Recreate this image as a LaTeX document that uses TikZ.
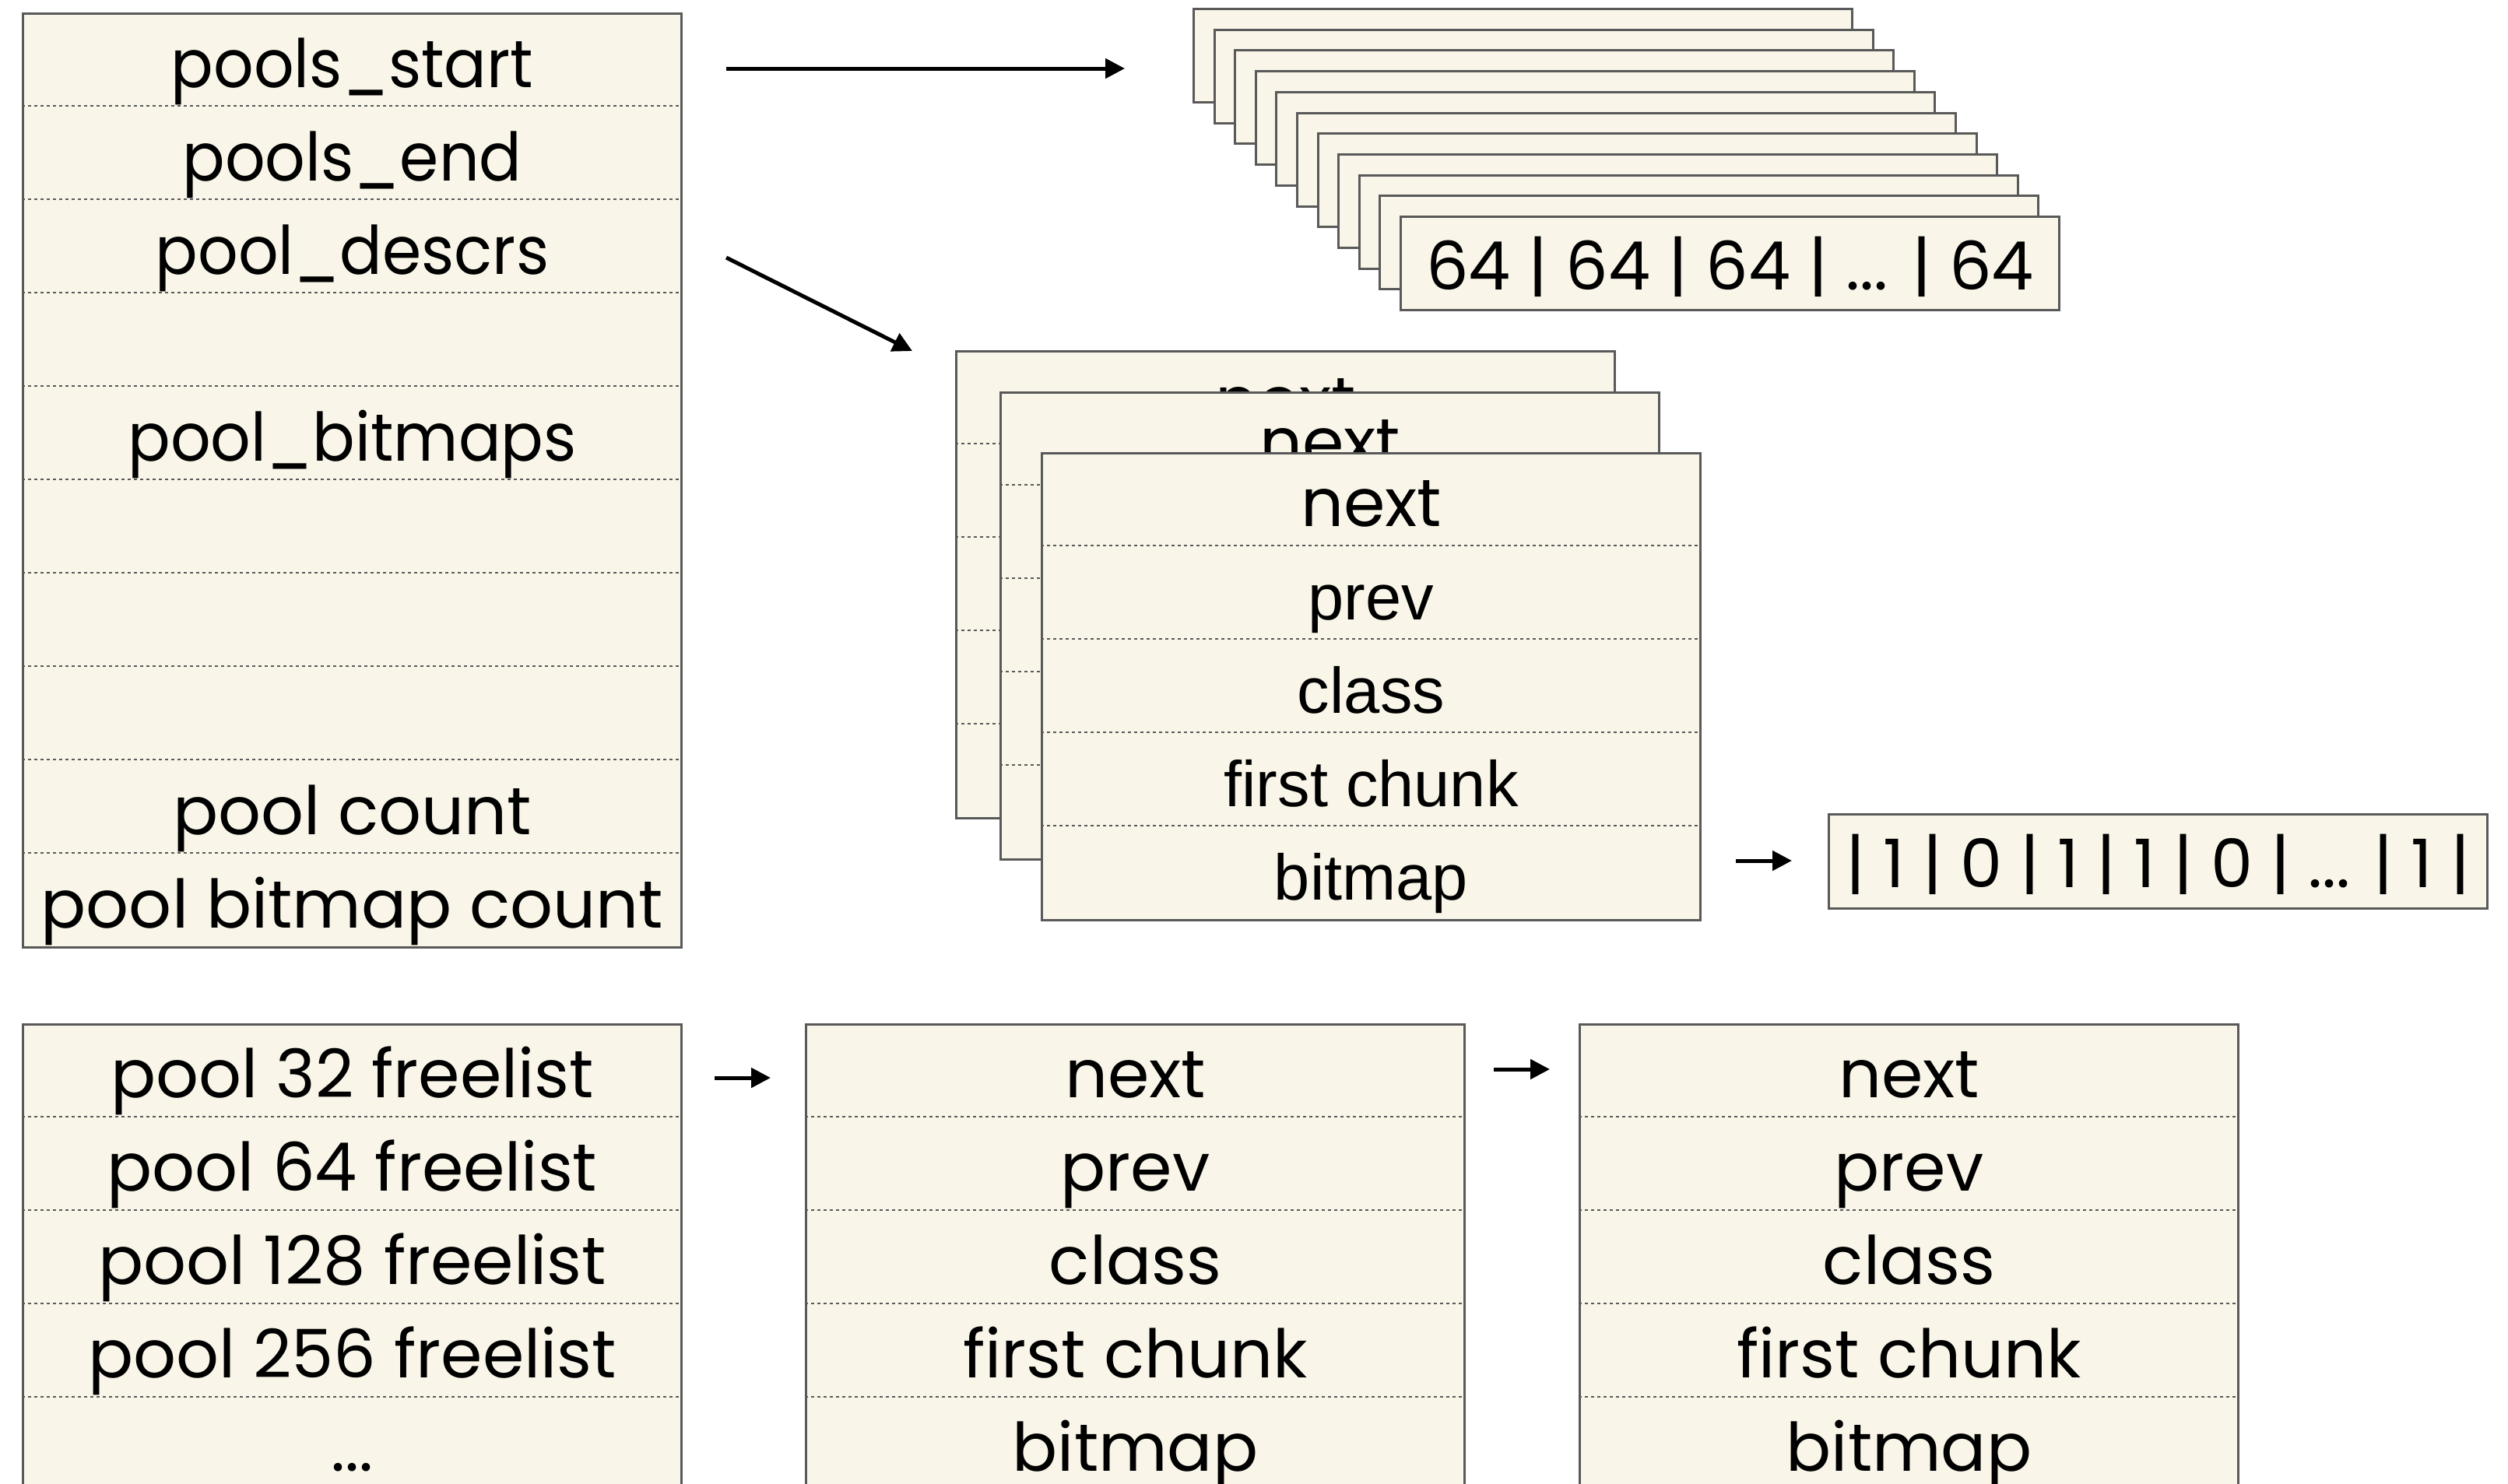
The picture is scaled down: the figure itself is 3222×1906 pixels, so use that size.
\documentclass[tikz,border=0pt]{standalone}
\usepackage{fontspec}
\setmainfont{Poppins}
\newfontfamily\popnarrow[FakeStretch=0.94]{Poppins}
\newfontfamily\helv{Liberation Sans}
\usetikzlibrary{arrows.meta}
\definecolor{cream}{HTML}{F9F6E9}
\definecolor{edge}{HTML}{595959}
\tikzset{
 box/.style={draw=edge, line width=3pt, fill=cream, minimum width=846pt, inner sep=0pt, anchor=north west},
 divider/.style={draw=edge, line width=2pt, dash pattern=on 4pt off 4pt},
 lbl/.style={anchor=base, inner sep=0pt, font=\fontsize{86}{100}\selectfont},
 nlbl/.style={anchor=base, inner sep=0pt, font=\popnarrow\fontsize{86}{100}\selectfont},
 hlbl/.style={anchor=base, inner sep=0pt, font=\helv\fontsize{83}{100}\selectfont},
 arr/.style={line width=5pt, -{Triangle[length=25pt,width=25pt]}},
}
\begin{document}
\begin{tikzpicture}[x=1pt,y=-1pt]
\useasboundingbox (0,0) rectangle (3222,1906);

% ---------- left main record ----------
\node[box, minimum height=1200pt] (L) at (28,16) {};
\foreach \k in {1,...,9}
  \draw[divider] ([yshift=-\k*120pt]L.north west) -- ([yshift=-\k*120pt]L.north east);
\node[nlbl] (L1) at ([yshift=-96pt]L.north) {pools\_start};
\node[nlbl] (L2) at ([yshift=-216pt]L.north) {pools\_end};
\node[nlbl] (L3) at ([yshift=-336pt]L.north) {pool\_descrs};
\node[nlbl] (L5) at ([yshift=-576pt]L.north) {pool\_bitmaps};
\node[lbl] (L9) at ([yshift=-1056pt]L.north) {pool count};
\node[lbl] (L10) at ([yshift=-1176pt]L.north) {pool bitmap count};

% ---------- top-right stack of pools ----------
\foreach \i in {0,...,10}
  \node[box, minimum height=120pt] (s\i) at ({1532+26.6*\i},{10+26.7*\i}) {};
\node[lbl] (s10t) at ([yshift=-95pt]s10.north) {64 | 64 | 64 | ... | 64};

% ---------- middle stack of descriptors ----------
\node[box, minimum height=600pt] (A) at (1227,450) {};
\foreach \k in {1,...,4}
  \draw[divider] ([yshift=-\k*120pt]A.north west) -- ([yshift=-\k*120pt]A.north east);
\node[lbl] (At) at ([yshift=-95pt]A.north) {next};

\node[box, minimum height=600pt] (B) at (1284,503) {};
\foreach \k in {1,...,4}
  \draw[divider] ([yshift=-\k*120pt]B.north west) -- ([yshift=-\k*120pt]B.north east);
\node[lbl] (Bt) at ([yshift=-95pt]B.north) {next};

\node[box, minimum height=600pt] (C) at (1337,581) {};
\foreach \k in {1,...,4}
  \draw[divider] ([yshift=-\k*120pt]C.north west) -- ([yshift=-\k*120pt]C.north east);
\node[lbl] (C1) at ([yshift=-95pt]C.north) {next};
\node[hlbl] (C2) at ([yshift=-215pt]C.north) {prev};
\node[hlbl] (C3) at ([yshift=-335pt]C.north) {class};
\node[hlbl] (C4) at ([yshift=-455pt]C.north) {first chunk};
\node[hlbl] (C5) at ([yshift=-575pt]C.north) {bitmap};

% ---------- bitmap ----------
\node[box, minimum height=121pt] (bm) at (2348,1045) {};
\node[lbl] (bmt) at ([yshift=-95pt]bm.north) {| 1 | 0 | 1 | 1 | 0 | ... | 1 |};

% ---------- bottom freelists ----------
\node[box, minimum height=600pt] (F) at (28,1315) {};
\foreach \k in {1,...,4}
  \draw[divider] ([yshift=-\k*120pt]F.north west) -- ([yshift=-\k*120pt]F.north east);
\node[lbl] (F1) at ([yshift=-95pt]F.north) {pool 32 freelist};
\node[lbl] (F2) at ([yshift=-215pt]F.north) {pool 64 freelist};
\node[lbl] (F3) at ([yshift=-335pt]F.north) {pool 128 freelist};
\node[lbl] (F4) at ([yshift=-455pt]F.north) {pool 256 freelist};
\node[lbl] (F5) at ([yshift=-575pt]F.north) {...};

\node[box, minimum height=600pt] (N) at (1034,1315) {};
\foreach \k in {1,...,4}
  \draw[divider] ([yshift=-\k*120pt]N.north west) -- ([yshift=-\k*120pt]N.north east);
\node[lbl] (N1) at ([yshift=-95pt]N.north) {next};
\node[lbl] (N2) at ([yshift=-215pt]N.north) {prev};
\node[lbl] (N3) at ([yshift=-335pt]N.north) {class};
\node[lbl] (N4) at ([yshift=-455pt]N.north) {first chunk};
\node[lbl] (N5) at ([yshift=-575pt]N.north) {bitmap};

\node[box, minimum height=600pt] (M) at (2028,1315) {};
\foreach \k in {1,...,4}
  \draw[divider] ([yshift=-\k*120pt]M.north west) -- ([yshift=-\k*120pt]M.north east);
\node[lbl] (M1) at ([yshift=-95pt]M.north) {next};
\node[lbl] (M2) at ([yshift=-215pt]M.north) {prev};
\node[lbl] (M3) at ([yshift=-335pt]M.north) {class};
\node[lbl] (M4) at ([yshift=-455pt]M.north) {first chunk};
\node[lbl] (M5) at ([yshift=-575pt]M.north) {bitmap};

% ---------- arrows ----------
\coordinate (a1s) at (933,88);   \coordinate (a1e) at (1445,88);
\coordinate (a2s) at (933,331);  \coordinate (a2e) at (1172,451);
\coordinate (a3s) at (2230,1106);\coordinate (a3e) at (2302,1106);
\coordinate (a4s) at (918,1385); \coordinate (a4e) at (990,1385);
\coordinate (a5s) at (1919,1374);\coordinate (a5e) at (1991,1374);
\draw[arr] (a1s) -- (a1e);
\draw[arr] (a2s) -- (a2e);
\draw[arr] (a3s) -- (a3e);
\draw[arr] (a4s) -- (a4e);
\draw[arr] (a5s) -- (a5e);
\end{tikzpicture}
\end{document}
